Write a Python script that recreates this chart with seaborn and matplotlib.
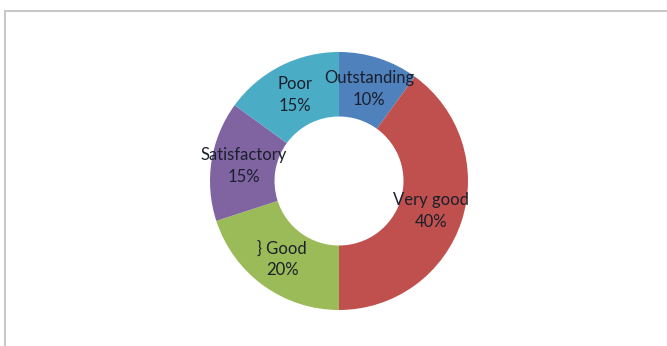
import matplotlib
matplotlib.use("Agg")
import matplotlib.pyplot as plt
from matplotlib.patches import Rectangle
import seaborn as sns

categories = ["Outstanding", "Very good", "} Good", "Satisfactory", "Poor"]
percentages = [10, 40, 20, 15, 15]
colors = ["#4F81BD", "#C0504D", "#9BBB59", "#8064A2", "#4BACC6"]

sns.set_theme(style="white")
plt.rcParams["font.family"] = ["Lato", "DejaVu Sans"]

fig = plt.figure(figsize=(6.67, 3.46), dpi=100)
fig.patch.set_facecolor("white")

# outer chart frame
fig.patches.append(Rectangle((5 / 667, -0.05), 1.0, (346 - 11) / 346 + 0.05,
                             transform=fig.transFigure, fill=False,
                             edgecolor="#C8C8C8", linewidth=1.5))

ax = fig.add_axes([210 / 667, 36 / 346, 258 / 667, 258 / 346])
labels_iter = iter(categories)


def fmt(p):
    return f"{next(labels_iter)}\n{p:.0f}%"


wedges, texts, autotexts = ax.pie(
    percentages, colors=sns.color_palette(colors), startangle=90,
    counterclock=False, radius=1.0, autopct=fmt, pctdistance=0.75,
    wedgeprops=dict(width=0.5, linewidth=0),
    textprops=dict(fontsize=12, color="#1A1F2B", linespacing=1.45))
for t in autotexts:
    t.set_ha("center")
    t.set_va("center")
ax.set_xlim(-1, 1)
ax.set_ylim(-1, 1)
ax.set_aspect("equal")
ax.axis("off")

fig.savefig("out.png", dpi=100, facecolor="white")
